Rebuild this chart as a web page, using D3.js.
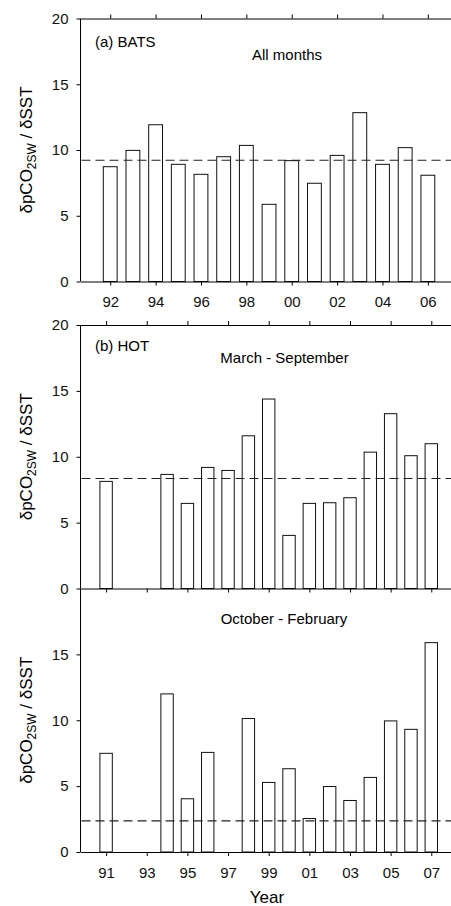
<!DOCTYPE html>
<html>
<head>
<meta charset="utf-8">
<script src="https://cdn.jsdelivr.net/npm/d3@7"></script>
<style>
  body { margin: 0; background: #fff; }
  svg { display: block; font-family: "Liberation Sans", Arial, sans-serif; }
  .tick text { font-size: 15px; fill: #111; }
  .axis path, .axis line { stroke: #000; }
</style>
</head>
<body>
<svg width="451" height="906"></svg>
<script>
// (a) BATS, all months
let batsYears  = [1992, 1993, 1994, 1995, 1996, 1997, 1998, 1999, 2000, 2001, 2002, 2003, 2004, 2005, 2006];
let batsValues = [8.73, 9.97, 11.92, 8.91, 8.15, 9.49, 10.35, 5.87, 9.19, 7.47, 9.59, 12.84, 8.91, 10.18, 8.08];
let batsMean = 9.22;

// (b) HOT, March - September
let hotSummerYears  = [1991, 1994, 1995, 1996, 1997, 1998, 1999, 2000, 2001, 2002, 2003, 2004, 2005, 2006, 2007];
let hotSummerValues = [8.13, 8.66, 6.46, 9.19, 8.96, 11.59, 14.38, 4.03, 6.46, 6.51, 6.89, 10.35, 13.27, 10.08, 10.99];
let hotSummerMean = 8.35;

// HOT, October - February
let hotWinterYears  = [1991, 1994, 1995, 1996, 1998, 1999, 2000, 2001, 2002, 2003, 2004, 2005, 2006, 2007];
let hotWinterValues = [7.49, 12.0, 4.04, 7.56, 10.13, 5.28, 6.32, 2.54, 4.97, 3.91, 5.66, 9.95, 9.31, 15.89];
let hotWinterMean = 2.36;

let batsTicks = [1992, 1994, 1996, 1998, 2000, 2002, 2004, 2006];
let hotTicks  = [1991, 1993, 1995, 1997, 1999, 2001, 2003, 2005, 2007];

let svg = d3.select("svg");
let left = 80.5, right = 451;
let yearFmt = function(d) { return String(d % 100).padStart(2, "0"); };

function drawPanel(p) {
  let x = d3.scaleLinear().domain(p.xDomain).range([left, right]);
  let y = d3.scaleLinear().domain([0, 20]).range([p.bottom, p.top]);
  let g = svg.append("g");

  // bars
  let half = 0.305;
  g.append("g")
    .selectAll("rect")
    .data(p.years.map(function(yr, i) { return { year: yr, value: p.values[i] }; }))
    .enter().append("rect")
      .attr("x", function(d) { return x(d.year - half); })
      .attr("width", function(d) { return x(d.year + half) - x(d.year - half); })
      .attr("y", function(d) { return y(d.value); })
      .attr("height", function(d) { return y(0) - y(d.value); })
      .attr("fill", "white")
      .attr("stroke", "#111")
      .attr("stroke-width", 1);

  // mean line
  g.append("line")
    .attr("x1", left + 1).attr("x2", right)
    .attr("y1", y(p.mean)).attr("y2", y(p.mean))
    .attr("stroke", "#222")
    .attr("stroke-width", 1.2)
    .attr("stroke-dasharray", "9,5");

  // left axis
  g.append("g")
    .attr("class", "axis")
    .attr("transform", "translate(" + left + ",0)")
    .call(d3.axisLeft(y).tickValues(p.yTicks).tickSize(4).tickSizeOuter(0).tickPadding(8))
    .select(".domain").attr("d", "M0," + p.top + "V" + p.bottom);

  // bottom axis
  let bottom = g.append("g")
    .attr("class", "axis")
    .attr("transform", "translate(0," + p.bottom + ")")
    .call(d3.axisBottom(x).tickValues(p.xTicks).tickFormat(p.showXLabels ? yearFmt : "")
      .tickSize(4).tickSizeOuter(0).tickPadding(11));

  // top axis
  if (p.topAxis) {
    g.append("g")
      .attr("class", "axis")
      .attr("transform", "translate(0," + p.top + ")")
      .call(d3.axisTop(x).tickValues(p.xTicks).tickFormat("").tickSize(4).tickSizeOuter(0));
  }

  g.selectAll(".axis text").style("font-size", "15px");

  // panel labels
  if (p.tag) {
    g.append("text")
      .attr("x", 95).attr("y", p.top + p.tagDy)
      .style("font-size", "15px")
      .text(p.tag);
  }
  g.append("text")
    .attr("x", p.titleX).attr("y", p.top + p.titleDy)
    .attr("text-anchor", "middle")
    .style("font-size", "15px")
    .text(p.title);

  // y label
  let yl = g.append("text")
    .attr("transform", "translate(32," + (p.top + p.bottom) / 2 + ") rotate(-90)")
    .attr("text-anchor", "middle")
    .style("font-size", "17px");
  yl.append("tspan").text("δpCO");
  yl.append("tspan").attr("dy", 4).style("font-size", "12px").text("2SW");
  yl.append("tspan").attr("dy", -4).text(" / δSST");
}

drawPanel({
  years: batsYears, values: batsValues, mean: batsMean,
  xDomain: [1990.69, 2007.02], xTicks: batsTicks, showXLabels: true, topAxis: true,
  top: 18.5, bottom: 281.5, yTicks: [0, 5, 10, 15, 20],
  tag: "(a) BATS", tagDy: 28, title: "All months", titleX: 287, titleDy: 41
});

drawPanel({
  years: hotSummerYears, values: hotSummerValues, mean: hotSummerMean,
  xDomain: [1989.74, 2007.97], xTicks: hotTicks, showXLabels: false, topAxis: true,
  top: 325, bottom: 588.5, yTicks: [0, 5, 10, 15, 20],
  tag: "(b) HOT", tagDy: 26, title: "March - September", titleX: 284.5, titleDy: 38
});

drawPanel({
  years: hotWinterYears, values: hotWinterValues, mean: hotWinterMean,
  xDomain: [1989.74, 2007.97], xTicks: hotTicks, showXLabels: true, topAxis: false,
  top: 588.5, bottom: 852, yTicks: [0, 5, 10, 15],
  tag: null, title: "October - February", titleX: 284, titleDy: 35
});

svg.append("text")
  .attr("x", 267).attr("y", 903)
  .attr("text-anchor", "middle")
  .style("font-size", "17px")
  .text("Year");
</script>
</body>
</html>
